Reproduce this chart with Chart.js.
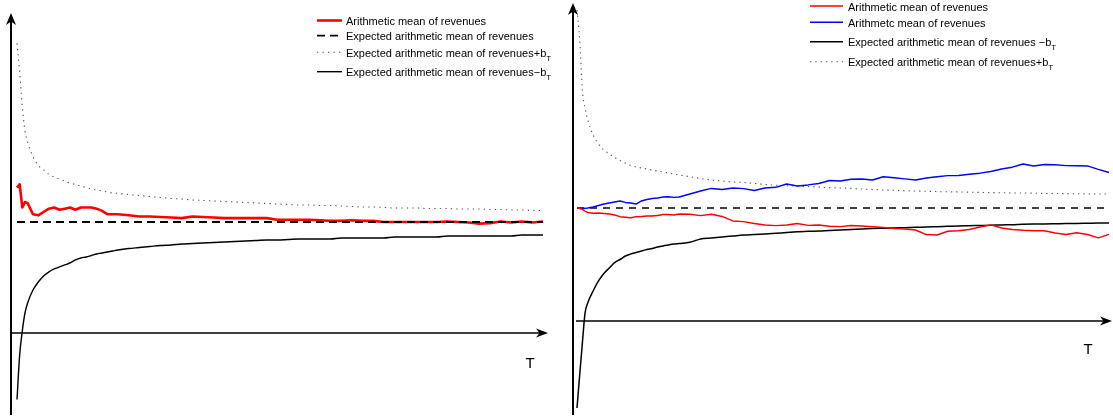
<!DOCTYPE html>
<html>
<head>
<meta charset="utf-8">
<script src="https://cdn.jsdelivr.net/npm/chart.js@4.4.1/dist/chart.umd.min.js"></script>
<style>
    html, body { margin: 0; padding: 0; background: #fff; }
    #wrap { position: relative; width: 1113px; height: 417px; overflow: hidden; }
    #leftPanel { position: absolute; left: 0; top: 0; }
    #rightPanel { position: absolute; left: 556px; top: 0; }
</style>
</head>
<body>
<div id="wrap">
    <canvas id="leftPanel" width="556" height="417"></canvas>
    <canvas id="rightPanel" width="557" height="417"></canvas>
</div>
<script>
// time steps T shared by both panels
const tSteps = [1, 1.5, 2, 2.5, 3, 4, 5, 6, 7, 8, 9, 10,
    11, 12, 13, 14, 15, 16, 17, 18, 19, 20,
    22, 24, 26, 28, 30, 32, 34, 36, 38, 40,
    42, 44, 46, 48, 50, 52, 54, 56, 58, 60,
    62, 64, 66, 68, 70, 72, 74, 76, 78, 80,
    82, 84, 86, 88, 90, 92, 94, 96, 98, 100];

const expectedT = [1, 100];

// left panel
const leftMean = [1.31, 1.34, 1.13, 1.18, 1.17, 1.07, 1.06, 1.09, 1.12, 1.13, 1.11, 1.12,
    1.13, 1.11, 1.13, 1.13, 1.13, 1.12, 1.10, 1.07, 1.07, 1.07,
    1.06, 1.05, 1.05, 1.045, 1.04, 1.035, 1.05, 1.045, 1.04, 1.035,
    1.035, 1.035, 1.035, 1.035, 1.02, 1.02, 1.02, 1.02, 1.015, 1.01,
    1.01, 1.015, 1.01, 1.01, 1.0, 1.0, 1.0, 1.0, 1.0, 1.0,
    1.005, 1.0, 0.995, 0.985, 0.99, 1.005, 0.995, 1.005, 0.995, 1.005];
const leftExpected = [1, 1];
const leftUpper = [2.61, 2.35, 2.04, 1.82, 1.72, 1.59, 1.51, 1.47, 1.43, 1.405, 1.387, 1.369,
    1.351, 1.338, 1.324, 1.311, 1.297, 1.288, 1.279, 1.27, 1.261, 1.257,
    1.248, 1.239, 1.23, 1.221, 1.212, 1.207, 1.198, 1.194, 1.189, 1.185,
    1.18, 1.176, 1.171, 1.167, 1.162, 1.158, 1.153, 1.153, 1.149, 1.149,
    1.144, 1.14, 1.135, 1.135, 1.131, 1.126, 1.126, 1.126, 1.122, 1.122,
    1.122, 1.117, 1.117, 1.117, 1.113, 1.113, 1.108, 1.108, 1.104, 1.104];
const leftLower = [-0.60, -0.20, 0.02, 0.18, 0.27, 0.387, 0.459, 0.514, 0.55, 0.577, 0.595, 0.613,
    0.631, 0.658, 0.676, 0.685, 0.698, 0.712, 0.721, 0.73, 0.739, 0.748,
    0.761, 0.77, 0.779, 0.788, 0.793, 0.802, 0.806, 0.811, 0.815, 0.82,
    0.824, 0.829, 0.833, 0.838, 0.838, 0.842, 0.847, 0.847, 0.847, 0.847,
    0.856, 0.856, 0.856, 0.856, 0.856, 0.865, 0.865, 0.865, 0.865, 0.865,
    0.874, 0.874, 0.874, 0.874, 0.874, 0.874, 0.874, 0.883, 0.883, 0.883];

// right panel
const rightRed = [1.0, 0.996, 0.987, 0.973, 0.96, 0.953, 0.956, 0.951, 0.947, 0.938, 0.923, 0.918,
    0.914, 0.923, 0.925, 0.929, 0.929, 0.934, 0.942, 0.942, 0.938, 0.947,
    0.944, 0.932, 0.944, 0.925, 0.885, 0.879, 0.863, 0.85, 0.844, 0.85,
    0.863, 0.846, 0.85, 0.838, 0.835, 0.845, 0.841, 0.834, 0.827, 0.817,
    0.814, 0.805, 0.765, 0.761, 0.794, 0.798, 0.81, 0.832, 0.85, 0.823,
    0.81, 0.803, 0.799, 0.799, 0.779, 0.765, 0.781, 0.765, 0.736, 0.767];
const rightBlue = [0.997, 0.997, 0.996, 0.997, 1.0, 1.009, 1.022, 1.035, 1.044, 1.053, 1.062, 1.049,
    1.044, 1.035, 1.062, 1.075, 1.084, 1.088, 1.097, 1.1, 1.094, 1.097,
    1.124, 1.15, 1.173, 1.164, 1.177, 1.171, 1.155, 1.177, 1.183, 1.212,
    1.195, 1.204, 1.217, 1.243, 1.239, 1.254, 1.257, 1.248, 1.276, 1.267,
    1.258, 1.248, 1.265, 1.277, 1.286, 1.287, 1.299, 1.308, 1.323, 1.345,
    1.361, 1.389, 1.372, 1.385, 1.382, 1.375, 1.374, 1.372, 1.341, 1.314];
const rightExpected = [1, 1];
const rightUpper = [2.752, 2.487, 2.044, 1.885, 1.779, 1.646, 1.566, 1.513, 1.478, 1.447, 1.42, 1.398,
    1.376, 1.363, 1.354, 1.345, 1.336, 1.327, 1.319, 1.31, 1.301, 1.292,
    1.277, 1.261, 1.248, 1.239, 1.23, 1.226, 1.217, 1.208, 1.201, 1.197,
    1.193, 1.19, 1.185, 1.18, 1.177, 1.173, 1.168, 1.164, 1.159, 1.157,
    1.153, 1.15, 1.148, 1.145, 1.143, 1.142, 1.14, 1.138, 1.136, 1.135,
    1.133, 1.133, 1.131, 1.129, 1.128, 1.127, 1.126, 1.124, 1.124, 1.124];
const rightLower = [-0.77, -0.478, -0.195, 0.071, 0.159, 0.265, 0.354, 0.42, 0.469, 0.517, 0.544, 0.575,
    0.593, 0.606, 0.619, 0.633, 0.642, 0.655, 0.664, 0.673, 0.681, 0.686,
    0.696, 0.726, 0.735, 0.743, 0.752, 0.761, 0.765, 0.77, 0.776, 0.783,
    0.789, 0.794, 0.796, 0.801, 0.805, 0.81, 0.814, 0.819, 0.82, 0.823,
    0.826, 0.829, 0.832, 0.835, 0.838, 0.841, 0.843, 0.845, 0.847, 0.85,
    0.852, 0.856, 0.858, 0.858, 0.86, 0.863, 0.863, 0.865, 0.867, 0.867];

const fontFamily = '"Liberation Sans", Arial, Helvetica, sans-serif';

function points(xs, ys) {
    return xs.map((x, i) => ({ x, y: ys[i] }));
}

function arrowHead(ctx, tipX, tipY, dx, dy, len, half) {
    const backX = tipX - dx * len;
    const backY = tipY - dy * len;
    const px = -dy;
    const py = dx;

    ctx.beginPath();
    ctx.moveTo(tipX, tipY);
    ctx.lineTo(backX + px * half, backY + py * half);
    ctx.lineTo(tipX - dx * len * 0.7, tipY - dy * len * 0.7);
    ctx.lineTo(backX - px * half, backY - py * half);
    ctx.closePath();
    ctx.fill();
}

function drawLabel(ctx, text, x, y) {
    ctx.font = '11px ' + fontFamily;
    ctx.textAlign = 'left';
    ctx.textBaseline = 'alphabetic';

    if (!text.endsWith('_T')) {
        ctx.fillText(text, x, y);
        return;
    }

    const main = text.slice(0, -2);
    ctx.fillText(main, x, y);
    const width = ctx.measureText(main).width;
    ctx.font = '8px ' + fontFamily;
    ctx.fillText('T', x + width, y + 4);
}

const sketchAxes = {
    id: 'sketchAxes',
    beforeDatasetsDraw(chart, args, opts) {
        const { ctx, chartArea } = chart;
        const axisY = chart.scales.y.getPixelForValue(0);

        ctx.save();
        ctx.strokeStyle = '#000';
        ctx.fillStyle = '#000';
        ctx.lineCap = 'butt';

        ctx.lineWidth = 2;
        ctx.beginPath();
        ctx.moveTo(chartArea.left, chartArea.bottom);
        ctx.lineTo(chartArea.left, chartArea.top + 8);
        ctx.stroke();
        arrowHead(ctx, chartArea.left, chartArea.top, 0, -1, 12, 5);

        ctx.lineWidth = 1.6;
        ctx.beginPath();
        ctx.moveTo(chartArea.left + opts.xAxisStart, axisY);
        ctx.lineTo(chartArea.right - 6, axisY);
        ctx.stroke();
        arrowHead(ctx, chartArea.right, axisY, 1, 0, 12, 4.5);

        ctx.font = '15px ' + fontFamily;
        ctx.textAlign = 'center';
        ctx.textBaseline = 'middle';
        ctx.fillText('T', chartArea.right + opts.tLabel.dx, axisY + opts.tLabel.dy);
        ctx.restore();
    },
    afterDatasetsDraw(chart, args, opts) {
        const { ctx } = chart;
        const legend = opts.legend;
        const items = chart.data.datasets.filter((ds) => ds.showInLegend !== false);

        ctx.save();
        ctx.fillStyle = '#000';
        items.forEach((ds, i) => {
            const rowY = legend.rows[i];
            ctx.strokeStyle = ds.borderColor;
            ctx.lineWidth = ds.borderWidth;
            ctx.setLineDash(ds.borderDash || []);
            ctx.beginPath();
            ctx.moveTo(legend.x, rowY);
            ctx.lineTo(legend.x + legend.lineLen, rowY);
            ctx.stroke();
            ctx.setLineDash([]);
            drawLabel(ctx, ds.label, legend.textX, rowY + legend.baseline);
        });
        ctx.restore();
    },
};

function makePanel(canvas, datasets, xRange, yRange, padding, axisOpts) {
    return new Chart(canvas, {
        type: 'line',
        data: { datasets },
        options: {
            responsive: false,
            animation: false,
            events: [],
            layout: { padding },
            elements: {
                point: { radius: 0 },
                line: { tension: 0, borderJoinStyle: 'round', borderCapStyle: 'butt' },
            },
            scales: {
                x: { type: 'linear', display: false, min: xRange[0], max: xRange[1] },
                y: { type: 'linear', display: false, min: yRange[0], max: yRange[1] },
            },
            plugins: {
                legend: { display: false },
                tooltip: { enabled: false },
                sketchAxes: axisOpts,
            },
        },
        plugins: [sketchAxes],
    });
}

makePanel(document.getElementById('leftPanel'), [
    {
        label: 'Arithmetic mean of revenues',
        data: points(tSteps, leftMean),
        borderColor: '#ff0000',
        borderWidth: 2.6,
        order: 1,
    },
    {
        label: 'Expected arithmetic mean of revenues',
        data: points(expectedT, leftExpected),
        borderColor: '#000',
        borderWidth: 1.8,
        borderDash: [8, 5],
        order: 0,
    },
    {
        label: 'Expected arithmetic mean of revenues+b_T',
        data: points(tSteps, leftUpper),
        borderColor: '#555',
        borderWidth: 1.1,
        borderDash: [1.3, 4.2],
        cubicInterpolationMode: 'monotone',
        order: 2,
    },
    {
        label: 'Expected arithmetic mean of revenues\u2212b_T',
        data: points(tSteps, leftLower),
        borderColor: '#000',
        borderWidth: 1.4,
        cubicInterpolationMode: 'monotone',
        order: 1,
    },
], [-0.13, 100.93], [-0.739, 2.883], { left: 11, right: 8, top: 13, bottom: 2 }, {
    xAxisStart: 0,
    tLabel: { dx: -18, dy: 31 },
    legend: { x: 317, lineLen: 25, textX: 346, rows: [20.5, 35.7, 52.3, 71.7], baseline: 4.5 },
});

makePanel(document.getElementById('rightPanel'), [
    {
        label: 'Arithmetic mean of revenues',
        data: points(tSteps, rightRed),
        borderColor: '#ff0000',
        borderWidth: 1.4,
        order: 0,
    },
    {
        label: 'Arithmetc mean of revenues',
        data: points(tSteps, rightBlue),
        borderColor: '#0000ff',
        borderWidth: 1.4,
        order: 0,
    },
    {
        label: 'Expected arithmetic mean of revenues \u2212b_T',
        data: points(tSteps, rightLower),
        borderColor: '#000',
        borderWidth: 1.5,
        cubicInterpolationMode: 'monotone',
        order: 1,
    },
    {
        label: 'Expected arithmetic mean of revenues+b_T',
        data: points(tSteps, rightUpper),
        borderColor: '#555',
        borderWidth: 1.1,
        borderDash: [1.3, 4],
        cubicInterpolationMode: 'monotone',
        order: 2,
    },
    {
        label: 'Expected arithmetic mean of revenues',
        data: points(expectedT, rightExpected),
        borderColor: '#000',
        borderWidth: 1.5,
        borderDash: [7, 6],
        showInLegend: false,
        order: 3,
    },
], [0.256, 100.56], [-0.832, 2.814], { left: 17, right: 1, top: 3, bottom: 2 }, {
    xAxisStart: 3,
    tLabel: { dx: -24, dy: 29 },
    legend: { x: 254, lineLen: 33, textX: 292, rows: [6, 22.3, 41.7, 61.7], baseline: 4.5 },
});
</script>
</body>
</html>
